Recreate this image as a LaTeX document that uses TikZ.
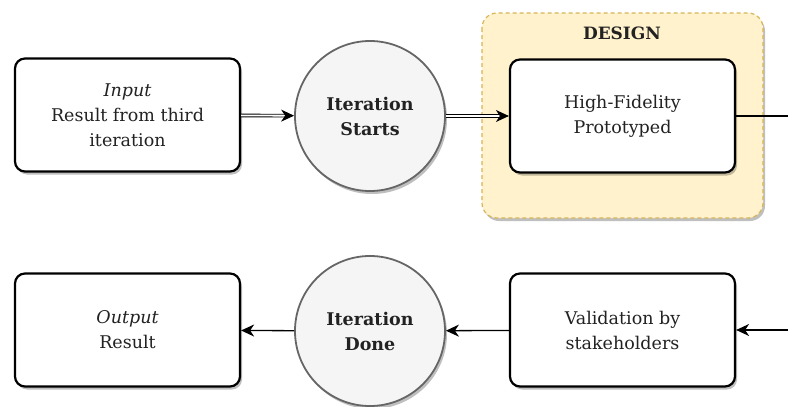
\documentclass[tikz,border=0pt]{standalone}
\usepackage{fontspec}
\setmainfont{DejaVu Serif}
\usepackage{tikz}
\usetikzlibrary{arrows.meta,shadows}

\definecolor{lanefill}{HTML}{FFF2CC}
\definecolor{laneline}{HTML}{D6B656}
\definecolor{phasefill}{HTML}{F5F5F5}
\definecolor{phaseline}{HTML}{666666}
\definecolor{ink}{HTML}{222222}

\tikzset{
  shade/.style={drop shadow={shadow xshift=2pt, shadow yshift=-3pt, opacity=0.25, fill=black}},
  stepbox/.style={draw, line width=2.2pt, rounded corners=10pt, fill=white, shade,
    minimum width=225pt, minimum height=113pt, align=center, text=ink,
    font=\fontsize{17.5}{25}\selectfont},
  phase/.style={circle, draw=phaseline, line width=1.8pt, fill=phasefill, shade,
    minimum size=150pt, align=center, text=ink, font=\fontsize{17.5}{25}\selectfont\bfseries},
  lane/.style={draw=laneline, dash pattern=on 4pt off 3pt, line width=1.2pt, fill=lanefill,
    rounded corners=15pt, shade},
  flow/.style={-{Stealth[length=13pt,width=12pt,inset=4pt]}, line width=1.3pt},
  dflow/.style={-{Stealth[length=13pt,width=12pt,inset=4pt]}, double=white, double distance=1.8pt, line width=0.9pt}
}

\begin{document}
\begin{tikzpicture}[x=1pt, y=-1pt]
\useasboundingbox (0,0) rectangle (788,407);

% design lane behind the prototype step
\draw[lane] (482,13) rectangle (763,218);
\node (lanetitle) at (622,33) [text=ink, font=\fontsize{17}{20}\selectfont\bfseries] {DESIGN};

% top row
\node (input) at (127.5,115) [stepbox] {\textit{Input}\\Result from third\\iteration};
\node (start) at (370,116) [phase] {Iteration\\Starts};
\node (proto) at (622.5,116) [stepbox] {High-Fidelity\\Prototyped};
\coordinate (outR) at (788,116);

% bottom row
\node (output) at (127.5,330) [stepbox] {\textit{Output}\\Result};
\node (done) at (370,331) [phase] {Iteration\\Done};
\node (valid) at (622.5,330) [stepbox] {Validation by\\stakeholders};
\coordinate (inR) at (788,330);

\draw[dflow] (input) -- (start);
\draw[dflow] (start) -- (proto);
\draw[line width=1.3pt] (proto) -- (outR);

\draw[flow] (inR) -- (valid);
\draw[flow] (valid) -- (done);
\draw[flow] (done) -- (output);
\end{tikzpicture}
\end{document}
